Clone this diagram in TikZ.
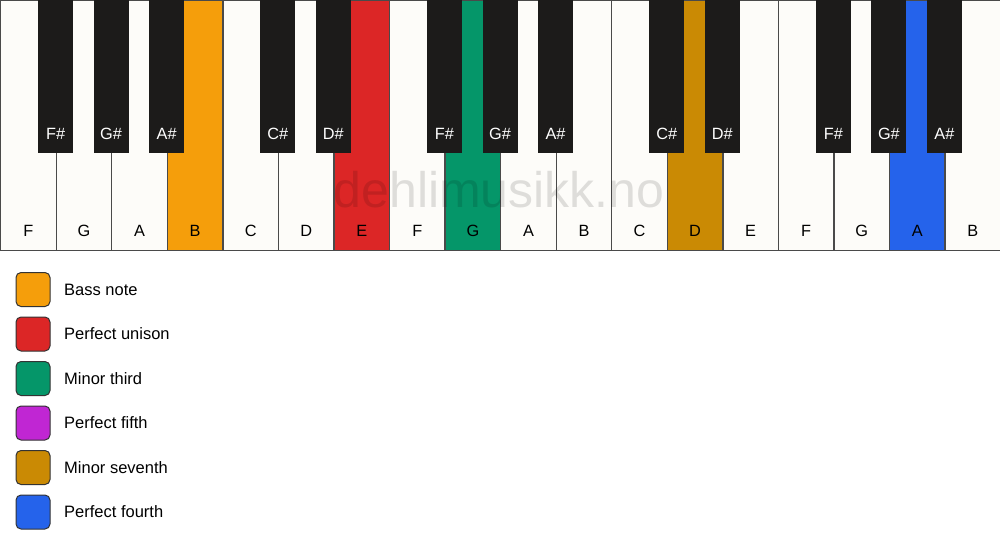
\documentclass[tikz,border=0pt]{standalone}
\usepackage{fontspec}
\setmainfont{Liberation Sans}
\definecolor{ivory}{HTML}{FDFCF9}
\definecolor{keyblack}{HTML}{1C1B1A}
\definecolor{edge}{HTML}{4A4A4A}
\definecolor{cbass}{HTML}{F59E0B}
\definecolor{cunison}{HTML}{DC2626}
\definecolor{cthird}{HTML}{059669}
\definecolor{cfifth}{HTML}{C026D3}
\definecolor{cseventh}{HTML}{CA8A04}
\definecolor{cfourth}{HTML}{2563EB}
\tikzset{
  whitekey/.style={draw=edge, line width=1.3pt, fill=ivory, rectangle, anchor=north west, inner sep=0pt, minimum width=55.556pt, minimum height=250pt},
  blackkey/.style={fill=keyblack, rectangle, anchor=north, inner sep=0pt, minimum width=35pt, minimum height=153pt},
  wlabel/.style={font=\fontsize{16.3}{16}\selectfont, text=black, inner sep=0pt},
  blabel/.style={font=\fontsize{16.3}{16}\selectfont, text=white, inner sep=0pt},
  swatch/.style={draw=black!80, line width=1pt, rounded corners=5pt, rectangle, inner sep=0pt, minimum width=34pt, minimum height=34pt},
  legtext/.style={font=\fontsize{16.5}{16}\selectfont, anchor=west, inner sep=0pt},
  watermark/.style={font=\fontsize{50}{50}\selectfont, text=black, text opacity=0.12, inner sep=0pt}
}
\begin{document}
\begin{tikzpicture}[x=1pt,y=-1pt]
\fill[white] (0,0) rectangle (1000,550);
\useasboundingbox (0,0) rectangle (1000,550);
% white keys
\foreach \i/\n/\c in {0/F/ivory,1/G/ivory,2/A/ivory,3/B/cbass,4/C/ivory,5/D/ivory,6/E/cunison,7/F/ivory,8/G/cthird,9/A/ivory,10/B/ivory,11/C/ivory,12/D/cseventh,13/E/ivory,14/F/ivory,15/G/ivory,16/A/cfourth,17/B/ivory}{
  \node[whitekey, fill=\c] (w\i) at (\i*55.556, 0) {};
  \node[wlabel] (wl\i) at ([yshift=20pt]w\i.south) {\n};
}
% black keys
\foreach \b/\n in {1/F\#,2/G\#,3/A\#,5/C\#,6/D\#,8/F\#,9/G\#,10/A\#,12/C\#,13/D\#,15/F\#,16/G\#,17/A\#}{
  \node[blackkey] (b\b) at (\b*55.556, 0) {};
  \node[blabel] (bl\b) at ([yshift=20pt]b\b.south) {\n};
}
\node[watermark] (wm) at (499,190) {dehlimusikk.no};
% legend
\foreach \k/\c/\t in {0/cbass/Bass note,1/cunison/Perfect unison,2/cthird/Minor third,3/cfifth/Perfect fifth,4/cseventh/Minor seventh,5/cfourth/Perfect fourth}{
  \node[swatch, fill=\c] (s\k) at (33, 289.5+\k*44.5) {};
  \node[legtext] (t\k) at (64, 289.5+\k*44.5) {\t};
}
\end{tikzpicture}
\end{document}
